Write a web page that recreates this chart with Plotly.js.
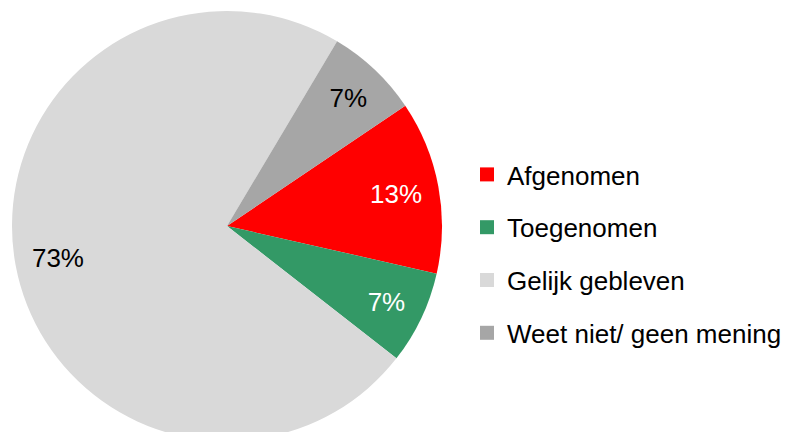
<!DOCTYPE html>
<html>
<head>
<meta charset="utf-8">
<script src="https://cdn.plot.ly/plotly-3.0.1.min.js"></script>
<style>
html,body{margin:0;padding:0;overflow:hidden;background:#fff;}
#chart{width:791px;height:452px;}
</style>
</head>
<body>
<div id="chart"></div>
<script>
var categories = ["Afgenomen", "Toegenomen", "Gelijk gebleven", "Weet niet/ geen mening"];
var values = [13, 7, 73, 7];
var colors = ["#FF0000", "#339966", "#D9D9D9", "#A6A6A6"];
var labelColors = ["#FFFFFF", "#FFFFFF", "#000000", "#000000"];

var FONT = "Liberation Sans, Arial, sans-serif";
var pieDomain = {x: [12/791, 442/791], y: [11/452, 441/452]};

var traces = [];
// main pie (slices)
traces.push({
  type: "pie",
  labels: categories,
  values: values,
  sort: false,
  direction: "clockwise",
  rotation: 56,
  marker: {colors: colors, line: {width: 0}},
  textinfo: "none",
  hoverinfo: "label+percent",
  showlegend: false,
  domain: pieDomain
});
// label ring (transparent) to place percentages near the outer part
traces.push({
  type: "pie",
  labels: categories,
  values: values,
  sort: false,
  direction: "clockwise",
  rotation: 56,
  hole: 0.6,
  marker: {colors: categories.map(function(){return "rgba(0,0,0,0)";}), line: {width: 0}},
  textinfo: "percent",
  textposition: "inside",
  insidetextorientation: "horizontal",
  textfont: {family: FONT, size: 26, color: labelColors},
  hoverinfo: "skip",
  showlegend: false,
  domain: pieDomain
});
// legend entries
categories.forEach(function(c, i){
  traces.push({
    type: "scatter",
    x: [null], y: [null],
    mode: "markers",
    name: c,
    legendgroup: "g" + i,
    marker: {symbol: "square", size: 14, color: colors[i]},
    showlegend: true,
    hoverinfo: "skip"
  });
});

var layout = {
  width: 791,
  height: 452,
  margin: {l: 0, r: 0, t: 0, b: 0},
  paper_bgcolor: "#FFFFFF",
  plot_bgcolor: "rgba(0,0,0,0)",
  font: {family: FONT, color: "#000000"},
  xaxis: {visible: false, domain: [0.6, 0.61]},
  yaxis: {visible: false},
  showlegend: true,
  legend: {
    x: 467/791, xanchor: "left",
    y: 1 - 254/452, yanchor: "middle",
    font: {family: FONT, size: 26, color: "#000000"},
    tracegroupgap: 16,
    bgcolor: "rgba(0,0,0,0)",
    borderwidth: 0
  }
};

Plotly.newPlot("chart", traces, layout, {displayModeBar: false, staticPlot: true});
</script>
</body>
</html>
